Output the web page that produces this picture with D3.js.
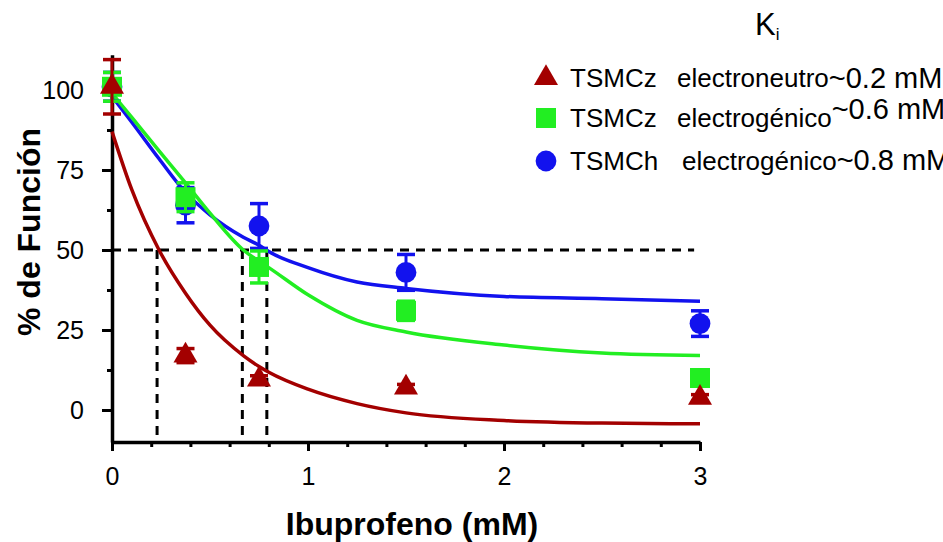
<!DOCTYPE html>
<html>
<head>
<meta charset="utf-8">
<script src="https://cdn.jsdelivr.net/npm/d3@7"></script>
<style>
  body { margin: 0; background: #fff; }
  svg { display: block; font-family: "Liberation Sans", Arial, sans-serif; }
</style>
</head>
<body>
<svg id="chart" width="943" height="542"></svg>
<script>
// ibuprofen doses (mM)
const doses = [0, 0.375, 0.75, 1.5, 3];

// % of function, mean and error, per transporter
const neutroMean = [101, 17, 9.5, 7, 3.8];
const neutroErr  = [8.5, 2.2, 1.2, 1, 1];
const czGenMean  = [101, 66.5, 44.7, 31, 10];
const czGenErr   = [4.5, 4.5, 5, 3, 1.5];
const chGenMean  = [101, 64, 57.5, 43, 27];
const chGenErr   = [4.5, 5.5, 7, 5.6, 4];

// fitted curves
const fitX      = [0, 0.1, 0.24, 0.375, 0.5, 0.67, 0.75, 0.8, 1.0, 1.25, 1.5, 2.0, 2.5, 3.0];
const neutroFit = [87, 69, 50, 36.5, 26.5, 17, 13.6, 11.8, 6.5, 2, -0.9, -3.3, -4.1, -4.3];
const czGenFit  = [99, 91.5, 81, 71, 61.5, 50, 46.5, 44.5, 36, 28, 24.4, 20.3, 17.8, 17];
const chGenFit  = [98, 90, 78.5, 68, 61, 54, 51.5, 49.5, 44.5, 40, 38, 35.5, 34.8, 34];

// Ki drop lines
const kiValues = [0.23, 0.665, 0.79];
const halfLevel = 50;
const halfLineEnd = 2.97;

const xTicks = [0, 1, 2, 3];
const yTicks = [0, 25, 50, 75, 100];

const legendNames = ['TSMCz', 'TSMCz', 'TSMCh'];
const legendKinds = ['electroneutro', 'electrogénico', 'electrogénico'];
const legendKi    = ['~0.2 mM', '~0.6 mM', '~0.8 mM'];

const svg = d3.select('#chart');

const x = d3.scaleLinear().domain([0, 3]).range([112, 700]);
const y = d3.scaleLinear().domain([-10, 111]).range([442, 54.8]);

const series = [
  { mean: chGenMean, err: chGenErr, fit: chGenFit, color: '#1212ee', sym: d3.symbolCircle, size: 340 },
  { mean: czGenMean, err: czGenErr, fit: czGenFit, color: '#22ee22', sym: d3.symbolSquare, size: 400 },
  { mean: neutroMean, err: neutroErr, fit: neutroFit, color: '#a30000', sym: d3.symbolTriangle, size: 250 }
];

// dashed guide lines
const guides = svg.append('g')
  .attr('stroke', '#000')
  .attr('stroke-width', 3)
  .attr('stroke-dasharray', '9,7');

guides.append('line')
  .attr('x1', x(0)).attr('x2', x(halfLineEnd))
  .attr('y1', y(halfLevel)).attr('y2', y(halfLevel));

guides.selectAll('.ki')
  .data(kiValues)
  .join('line')
  .attr('class', 'ki')
  .attr('x1', d => x(d)).attr('x2', d => x(d))
  .attr('y1', y(halfLevel)).attr('y2', y(-10));

// axes
svg.append('g')
  .attr('transform', `translate(0,${y(-10)})`)
  .call(d3.axisBottom(x).tickValues(xTicks).tickFormat(d3.format('d'))
    .tickSize(9).tickSizeOuter(0).tickPadding(16));

svg.append('g')
  .attr('transform', `translate(0,${y(-10)})`)
  .call(d3.axisBottom(x).ticks(15).tickSize(5).tickSizeOuter(0).tickFormat(''))
  .call(g => g.select('.domain').remove());

svg.append('g')
  .attr('transform', `translate(${x(0)},0)`)
  .call(d3.axisLeft(y).tickValues(yTicks).tickSize(10).tickSizeOuter(0).tickPadding(18));

svg.append('g')
  .attr('transform', `translate(${x(0)},0)`)
  .call(d3.axisLeft(y).tickValues([12.5, 37.5, 62.5, 87.5]).tickSize(5).tickFormat(''))
  .call(g => g.select('.domain').remove());

svg.selectAll('.domain').attr('stroke-width', 3.5);
svg.selectAll('.tick line').attr('stroke-width', 3);
svg.selectAll('.tick text')
  .attr('font-size', 25)
  .attr('font-family', '"Liberation Sans", Arial, sans-serif')
  .attr('fill', '#000');

// fitted curves: red, blue, then green on top
const line = d3.line().curve(d3.curveMonotoneX);
[series[2], series[0], series[1]].forEach(s => {
  svg.append('path')
    .attr('d', line(fitX.map((v, i) => [x(v), y(s.fit[i])])))
    .attr('fill', 'none')
    .attr('stroke', s.color)
    .attr('stroke-width', 3.5);
});

// error bars and markers
series.forEach(s => {
  const g = svg.append('g');
  const pts = doses.map((d, i) => ({ d, m: s.mean[i], e: s.err[i] }));

  g.selectAll('.stem')
    .data(pts)
    .join('line')
    .attr('x1', p => x(p.d)).attr('x2', p => x(p.d))
    .attr('y1', p => y(p.m - p.e)).attr('y2', p => y(p.m + p.e))
    .attr('stroke', s.color).attr('stroke-width', 3);

  g.selectAll('.cap')
    .data(pts.flatMap(p => [{ d: p.d, v: p.m - p.e }, { d: p.d, v: p.m + p.e }]))
    .join('line')
    .attr('x1', p => x(p.d) - 9).attr('x2', p => x(p.d) + 9)
    .attr('y1', p => y(p.v)).attr('y2', p => y(p.v))
    .attr('stroke', s.color).attr('stroke-width', 3.5);

  g.selectAll('.mark')
    .data(pts)
    .join('path')
    .attr('transform', p => `translate(${x(p.d)},${y(p.m)})`)
    .attr('d', d3.symbol().type(s.sym).size(s.size))
    .attr('fill', s.color);
});

// axis titles
svg.append('text')
  .attr('x', 412).attr('y', 535)
  .attr('text-anchor', 'middle')
  .attr('font-size', 32).attr('font-weight', 'bold')
  .text('Ibuprofeno (mM)');

svg.append('text')
  .attr('transform', 'translate(40,232) rotate(-90)')
  .attr('text-anchor', 'middle')
  .attr('font-size', 32).attr('font-weight', 'bold')
  .text('% de Función');

// legend
const ki = svg.append('text').attr('x', 755).attr('y', 35).attr('font-size', 31);
ki.append('tspan').text('K');
ki.append('tspan').attr('font-size', 17).attr('dy', 5).text('i');

const legendRows = [series[2], series[1], series[0]];
const rowY = [87, 127, 170];
const kindX = [677, 677, 682];
const kiShift = [1, -8, 0];

legendRows.forEach((s, i) => {
  svg.append('path')
    .attr('transform', `translate(546,${rowY[i] - 9})`)
    .attr('d', d3.symbol().type(s.sym).size(s.size))
    .attr('fill', s.color);

  svg.append('text')
    .attr('x', 570).attr('y', rowY[i])
    .attr('font-size', 26)
    .text(legendNames[i]);

  const kind = svg.append('text')
    .attr('x', kindX[i]).attr('y', rowY[i])
    .attr('font-size', 26)
    .text(legendKinds[i]);

  const end = kindX[i] + kind.node().getComputedTextLength();
  svg.append('text')
    .attr('x', end).attr('y', rowY[i] + kiShift[i])
    .attr('font-size', 29)
    .text(legendKi[i]);
});
</script>
</body>
</html>
